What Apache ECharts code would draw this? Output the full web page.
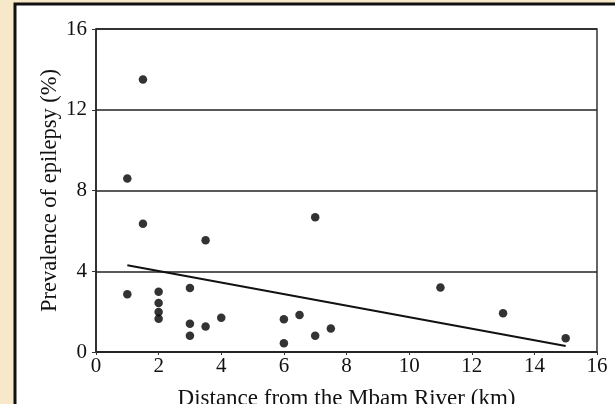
<!DOCTYPE html>
<html>
<head>
<meta charset="utf-8">
<script src="https://cdn.jsdelivr.net/npm/echarts@6/dist/echarts.min.js"></script>
<style>
  html, body { margin: 0; padding: 0; background: #f6e8c8; }
  #chart { width: 615px; height: 404px; }
</style>
</head>
<body>
<div id="chart"></div>
<script>
// distance (km) and prevalence (%) per village
const distance   = [1, 1.5, 1.5, 1, 2, 2, 2, 2, 3, 3, 3, 3.5, 3.5, 4, 6, 6, 6.5, 7, 7, 7.5, 11, 13, 15];
const prevalence = [8.6, 13.5, 6.35, 2.86, 2.98, 2.43, 1.98, 1.65, 3.17, 1.4, 0.81, 5.54, 1.26, 1.7, 1.62, 0.43, 1.83, 6.68, 0.81, 1.16, 3.19, 1.92, 0.68];
// regression line end points
const trendX = [1, 15];
const trendY = [4.3, 0.3];

const xTitle = 'Distance from the Mbam River (km)';
const yTitle = 'Prevalence of epilepsy (%)';

const serif = '"Liberation Serif", "DejaVu Serif", serif';

(function () {
    let myChart = echarts.init(document.getElementById('chart'));

    const option = {
        backgroundColor: '#f6e8c8',
        animation: false,
        graphic: [{
            type: 'rect',
            z: -10,
            shape: { x: 15, y: 4, width: 640, height: 440 },
            style: { fill: '#ffffff', stroke: '#111', lineWidth: 3 }
        }],
        grid: {
            left: 96, right: 18, top: 29, bottom: 52,
            outerBoundsMode: 'none',
            containLabel: false,
            show: true,
            borderColor: '#333',
            borderWidth: 1.5,
            backgroundColor: 'transparent'
        },
        xAxis: {
            type: 'value',
            min: 0, max: 16, interval: 2,
            name: xTitle,
            nameLocation: 'middle',
            nameMoveOverlap: false,
            nameGap: 35,
            nameTextStyle: { fontFamily: serif, fontSize: 23, color: '#111' },
            axisLine: { lineStyle: { color: '#222', width: 1.5 } },
            axisTick: { show: true, inside: false, length: 3, lineStyle: { color: '#333' } },
            axisLabel: { fontFamily: serif, fontSize: 21, color: '#111', margin: 4 },
            splitLine: { show: false }
        },
        yAxis: {
            type: 'value',
            min: 0, max: 16, interval: 4,
            name: yTitle,
            nameLocation: 'middle',
            nameMoveOverlap: false,
            nameGap: 34,
            nameTextStyle: { fontFamily: serif, fontSize: 22.5, color: '#111' },
            axisLine: { show: true, lineStyle: { color: '#222', width: 1.5 } },
            axisTick: { show: true, length: 4, lineStyle: { color: '#333' } },
            axisLabel: { fontFamily: serif, fontSize: 21, color: '#111', margin: 9 },
            splitLine: { show: true, lineStyle: { color: '#222', width: 1.5 } }
        },
        series: [
            {
                type: 'scatter',
                symbol: 'circle',
                symbolSize: 8.5,
                itemStyle: { color: '#000' },
                data: distance.map((d, i) => [d, prevalence[i]])
            },
            {
                type: 'line',
                symbol: 'none',
                lineStyle: { color: '#111', width: 2 },
                data: trendX.map((d, i) => [d, trendY[i]])
            }
        ]
    };

    myChart.setOption(option);
}());
</script>
</body>
</html>
